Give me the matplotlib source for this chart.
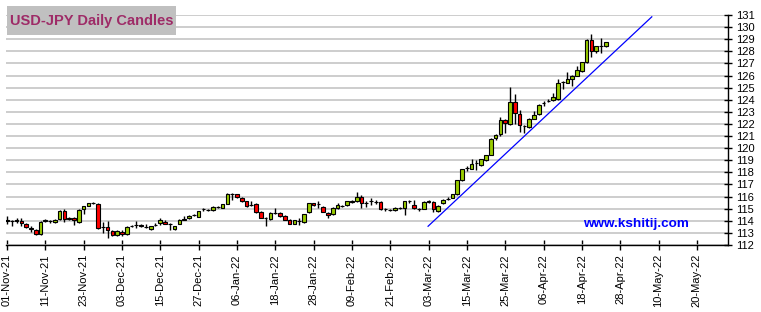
import numpy as np
import pandas as pd
import matplotlib
matplotlib.use("Agg")
import matplotlib.pyplot as plt
from matplotlib.patches import Rectangle

# daily USD-JPY candles, one per business day from 01-Nov-21
opens = [114.00, 114.00, 114.00, 114.00, 113.75, 113.40, 113.25, 112.92, 114.00, 113.98,
         113.86, 114.14, 114.83, 114.20, 114.25, 113.90, 115.00, 115.25, 115.45, 115.40,
         113.45, 113.45, 113.17, 112.83, 113.10, 112.90, 113.55, 113.67, 113.62, 113.50,
         113.30, 113.62, 113.80, 113.94, 113.75, 113.33, 113.75, 114.10, 114.20, 114.45,
         114.33, 114.95, 114.90, 114.90, 115.14, 115.08, 115.42, 116.20, 116.19, 115.86,
         115.60, 115.33, 115.39, 114.72, 114.22, 114.17, 114.67, 114.64, 114.39, 114.10,
         113.75, 114.00, 113.90, 114.72, 115.44, 115.36, 115.17, 114.67, 114.56, 115.06,
         115.20, 115.28, 115.58, 115.60, 116.00, 115.50, 115.60, 115.58, 115.56, 114.94,
         114.90, 114.86, 115.08, 115.08, 115.60, 115.30, 115.00, 115.00, 115.56, 115.56,
         114.80, 115.44, 115.83, 115.89, 116.25, 117.39, 118.36, 118.30, 118.75, 118.64,
         119.00, 119.47, 120.80, 121.14, 122.36, 122.00, 123.83, 122.83, 121.80, 121.78,
         122.44, 122.83, 123.70, 123.92, 123.97, 124.03, 125.47, 125.42, 125.72, 126.00,
         126.39, 127.14, 128.94, 128.00, 128.42, 128.42]
highs = [114.40, 114.05, 114.20, 114.20, 113.85, 113.55, 113.30, 113.95, 114.15, 114.05,
         114.15, 114.90, 114.97, 114.30, 114.30, 114.95, 115.25, 115.50, 115.52, 115.45,
         113.90, 113.95, 113.25, 113.25, 113.20, 113.55, 113.65, 113.95, 113.75, 113.70,
         113.60, 113.80, 114.25, 114.05, 113.80, 113.60, 114.15, 114.40, 114.45, 114.55,
         114.85, 115.05, 115.00, 115.20, 115.20, 115.40, 116.33, 116.30, 116.25, 115.95,
         115.65, 115.64, 115.45, 114.80, 114.30, 114.70, 115.08, 114.72, 114.45, 114.15,
         114.10, 114.25, 114.60, 115.50, 115.50, 115.60, 115.25, 114.75, 115.10, 115.50,
         115.30, 115.65, 115.68, 116.37, 116.10, 115.65, 115.85, 115.70, 115.62, 115.05,
         114.95, 115.10, 115.15, 115.65, 115.75, 115.75, 115.05, 115.60, 115.70, 115.65,
         115.30, 115.80, 115.95, 116.25, 117.40, 118.30, 118.52, 119.08, 119.03, 119.10,
         119.45, 120.80, 121.15, 122.58, 122.45, 125.08, 124.44, 123.19, 121.90, 122.50,
         123.03, 123.65, 123.92, 124.10, 124.58, 125.75, 125.55, 126.33, 126.05, 126.80,
         127.10, 129.00, 129.44, 128.42, 129.08, 128.80]
lows = [113.75, 113.58, 113.80, 113.60, 113.40, 113.11, 112.85, 112.85, 113.90, 113.85,
        113.80, 114.10, 113.94, 114.05, 113.67, 113.85, 114.55, 115.20, 115.40, 113.35,
        113.03, 112.56, 112.75, 112.75, 112.75, 112.85, 113.45, 113.40, 113.45, 113.40,
        113.25, 113.55, 113.69, 113.70, 113.22, 113.25, 113.70, 114.05, 114.15, 114.40,
        114.30, 114.85, 114.80, 114.85, 115.08, 115.05, 115.40, 115.72, 115.85, 115.55,
        115.15, 115.25, 114.65, 114.20, 113.55, 114.10, 114.60, 114.35, 114.05, 113.70,
        113.70, 113.69, 113.85, 114.65, 115.25, 115.08, 114.70, 114.22, 114.50, 115.00,
        115.10, 115.20, 115.50, 115.55, 115.08, 115.10, 115.33, 115.40, 114.90, 114.85,
        114.80, 114.80, 115.00, 114.50, 115.50, 115.00, 114.78, 114.95, 115.50, 114.72,
        114.75, 115.40, 115.75, 115.85, 116.15, 117.30, 118.14, 118.25, 118.19, 118.55,
        118.95, 119.40, 120.70, 121.00, 121.25, 121.90, 122.00, 121.30, 121.25, 121.70,
        122.40, 122.75, 123.47, 123.80, 123.90, 123.97, 124.86, 125.35, 125.14, 125.95,
        126.30, 127.05, 127.50, 127.83, 127.86, 128.38]
closes = [114.05, 113.95, 114.08, 113.80, 113.47, 113.30, 112.92, 113.90, 114.05, 113.95,
          114.08, 114.83, 114.14, 114.15, 114.03, 114.90, 115.20, 115.45, 115.47, 113.40,
          113.50, 113.20, 112.83, 113.17, 112.90, 113.50, 113.55, 113.67, 113.60, 113.52,
          113.55, 113.67, 114.03, 113.75, 113.75, 113.53, 114.08, 114.12, 114.40, 114.47,
          114.80, 114.95, 114.92, 115.14, 115.14, 115.36, 116.19, 116.20, 115.94, 115.64,
          115.22, 115.33, 114.72, 114.25, 114.22, 114.67, 114.67, 114.39, 114.10, 113.75,
          114.03, 114.00, 114.53, 115.44, 115.28, 115.36, 114.75, 114.47, 115.03, 115.28,
          115.20, 115.60, 115.62, 116.00, 115.50, 115.50, 115.60, 115.58, 114.97, 114.94,
          114.90, 115.08, 115.08, 115.60, 115.60, 115.05, 115.00, 115.56, 115.62, 114.94,
          115.25, 115.72, 115.83, 116.19, 117.36, 118.25, 118.36, 118.70, 118.75, 119.08,
          119.44, 120.75, 121.10, 122.36, 122.08, 123.83, 122.92, 121.94, 121.80, 122.44,
          122.75, 123.58, 123.70, 123.92, 124.25, 125.42, 125.47, 125.69, 125.97, 126.44,
          127.08, 128.94, 128.00, 128.42, 128.42, 128.78]

# support trend line (day index, price)
trend_x = [87.9, 134.6]
trend_y = [113.55, 130.85]

y_ticks = list(range(112, 132))
tick_step = 8
n_axis_days = 153

dates = pd.bdate_range("2021-11-01", periods=n_axis_days)
idx = np.arange(len(opens))
o = np.array(opens)
h = np.array(highs)
l = np.array(lows)
c = np.array(closes)

fig = plt.figure(figsize=(7.61, 3.12), dpi=100)
fig.patch.set_facecolor("white")
ax = fig.add_axes([0.0079, 0.2147, 0.9487, 0.7372])

ax.set_xlim(-0.2, 150.5)
ax.set_ylim(112, 131)
ax.set_yticks(y_ticks)
ax.grid(axis="y", color="#c0c0c0", lw=1.1, zorder=0)
ax.set_axisbelow(True)

# wicks then bodies
ax.vlines(idx, l, h, color="black", lw=1.0, zorder=2)
for i in idx:
    up = c[i] >= o[i]
    col = "#99cc00" if up else "#ff0000"
    bottom = min(o[i], c[i])
    ht = abs(c[i] - o[i])
    ax.add_patch(Rectangle((i - 0.38, bottom), 0.76, ht, facecolor=col,
                           edgecolor="black", lw=0.8, zorder=3))

ax.plot(trend_x, trend_y, color="#0000ff", lw=0.9, zorder=4)

# axes styling
for s in ["top", "left"]:
    ax.spines[s].set_visible(False)
ax.spines["right"].set_linewidth(1.0)
ax.spines["bottom"].set_linewidth(1.0)
ax.yaxis.tick_right()
ax.tick_params(axis="y", direction="inout", length=6, width=1, pad=3,
               labelsize=8, labelcolor="black")
ticks_x = list(range(0, n_axis_days - 8, tick_step))
ax.set_xticks(ticks_x)
ax.set_xticklabels([dates[t].strftime("%d-%b-%y") for t in ticks_x],
                   rotation=90, fontsize=8)
ax.tick_params(axis="x", direction="inout", length=7, width=1, pad=3)
for lab in ax.get_xticklabels() + ax.get_yticklabels():
    lab.set_fontfamily("Liberation Sans")

# title box
fig.patches.append(Rectangle((0.0092, 0.8878), 0.2221, 0.093, transform=fig.transFigure,
                             facecolor="#c0c0c0", edgecolor="none", zorder=5))
fig.text(0.0125, 0.934, "USD-JPY Daily Candles", fontsize=10.5, fontweight="bold",
         color="#9e2b67", family="Liberation Sans", va="center", ha="left", zorder=6)

ax.text(0.799, 0.091, "www.kshitij.com", transform=ax.transAxes, fontsize=9.7,
        fontweight="bold", color="#0000ff", family="Liberation Sans",
        ha="left", va="center", zorder=6)

fig.savefig("out.png", dpi=100)
